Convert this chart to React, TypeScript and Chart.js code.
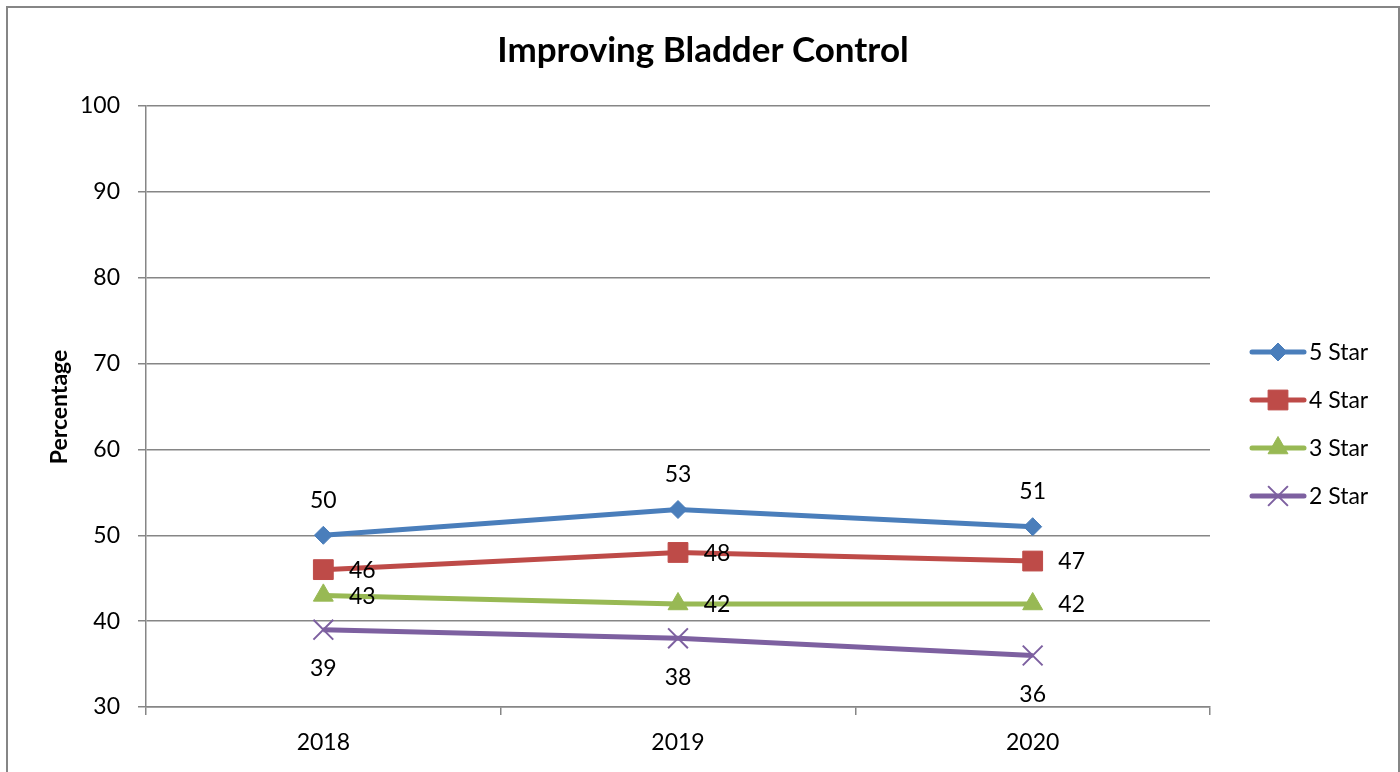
import React, { useEffect, useRef } from "react";
import { Chart, registerables } from "chart.js";
import { drawPoint } from "chart.js/helpers";

Chart.register(...registerables);

const categories = ["2018", "2019", "2020"];
const seriesNames = ["5 Star", "4 Star", "3 Star", "2 Star"];
const fiveStar = [50, 53, 51];
const fourStar = [46, 48, 47];
const threeStar = [43, 42, 42];
const twoStar = [39, 38, 36];
const yMin = 30;
const yMax = 100;
const yStep = 10;
const chartTitle = "Improving Bladder Control";
const yAxisTitle = "Percentage";

const colors = ["#4A7EBB", "#BE4B48", "#98B954", "#7D60A0"];
const pointStyles = ["rectRot", "rect", "triangle", "crossRot"];
const pointRadii = [9, 14, 11.5, 14];
const pointBorderWidths = [1, 1, 1, 2];
const labelPlacement = ["above", "right", "right", "below"];

const FONT = "Lato, 'Open Sans', sans-serif";
const GRID = "#868686";

export default function App() {
  const ref = useRef<HTMLCanvasElement | null>(null);

  useEffect(() => {
    const canvas = ref.current;
    if (!canvas) return;
    const seriesData = [fiveStar, fourStar, threeStar, twoStar];

    const deco = {
      id: "deco",
      beforeDraw(chart: any) {
        const ctx = chart.ctx;
        ctx.save();
        ctx.fillStyle = "#ffffff";
        ctx.fillRect(0, 0, chart.width, chart.height);
        ctx.restore();
      },
      afterDatasetsDraw(chart: any) {
        const ctx = chart.ctx;
        ctx.save();
        ctx.font = `23px ${FONT}`;
        ctx.fillStyle = "#000";
        ctx.textAlign = "center";
        ctx.textBaseline = "middle";
        chart.data.datasets.forEach((ds: any, i: number) => {
          const meta = chart.getDatasetMeta(i);
          meta.data.forEach((pt: any, j: number) => {
            let x = pt.x;
            let y = pt.y;
            const p = labelPlacement[i];
            if (p === "above") y -= 36;
            else if (p === "below") y += 38;
            else x += 39;
            ctx.fillText(String(ds.data[j]), x, y + 1);
          });
        });
        ctx.restore();
      },
      afterDraw(chart: any) {
        const ctx = chart.ctx;
        ctx.save();
        // title
        ctx.fillStyle = "#000";
        ctx.textAlign = "center";
        ctx.textBaseline = "middle";
        ctx.font = `bold 35px ${FONT}`;
        ctx.fillText(chartTitle, 703, 51);
        // y axis title
        ctx.save();
        ctx.translate(60, 407);
        ctx.rotate(-Math.PI / 2);
        ctx.font = `bold 23px ${FONT}`;
        ctx.fillText(yAxisTitle, 0, 0);
        ctx.restore();
        // legend
        const ly0 = 352;
        const lgap = 48;
        seriesNames.forEach((name, i) => {
          const y = ly0 + i * lgap;
          ctx.strokeStyle = colors[i];
          ctx.fillStyle = colors[i];
          ctx.lineWidth = 5;
          ctx.lineCap = "round";
          ctx.beginPath();
          ctx.moveTo(1252, y);
          ctx.lineTo(1304, y);
          ctx.stroke();
          ctx.lineCap = "butt";
          ctx.lineWidth = pointBorderWidths[i];
          drawPoint(
            ctx,
            {
              pointStyle: pointStyles[i],
              rotation: 0,
              radius: pointRadii[i],
              borderWidth: pointBorderWidths[i],
            } as any,
            1278,
            y
          );
          ctx.fillStyle = "#000";
          ctx.textAlign = "left";
          ctx.textBaseline = "middle";
          ctx.font = `23px ${FONT}`;
          ctx.fillText(name, 1309, y + 1);
        });
        // outer border
        ctx.strokeStyle = GRID;
        ctx.lineWidth = 2;
        ctx.strokeRect(7, 7, 1392, 900);
        ctx.restore();
      },
    };

    const chart = new Chart(canvas, {
      type: "line",
      data: {
        labels: categories,
        datasets: seriesNames.map((name, i) => ({
          label: name,
          data: seriesData[i],
          borderColor: colors[i],
          backgroundColor: colors[i],
          borderWidth: 5,
          pointStyle: pointStyles[i] as any,
          pointRadius: pointRadii[i],
          pointHoverRadius: pointRadii[i],
          pointBorderWidth: pointBorderWidths[i],
          pointBackgroundColor: colors[i],
          pointBorderColor: colors[i],
          tension: 0,
          fill: false,
        })),
      },
      options: {
        animation: false,
        responsive: false,
        devicePixelRatio: 1,
        events: [],
        layout: { padding: { top: 106, right: 190, left: 0, bottom: 0 } },
        plugins: {
          legend: { display: false },
          title: { display: false },
          tooltip: { enabled: false },
        },
        scales: {
          x: {
            type: "category",
            offset: true,
            grid: {
              offset: true,
              drawOnChartArea: false,
              drawTicks: true,
              tickLength: 8,
              color: GRID,
              lineWidth: 1.5,
            },
            border: { display: true, color: GRID, width: 1.5 },
            ticks: {
              color: "#000",
              font: { family: FONT, size: 23 },
              padding: 14,
            },
            afterFit(scale: any) {
              scale.height = 65;
            },
          },
          y: {
            min: yMin,
            max: yMax,
            ticks: {
              stepSize: yStep,
              color: "#000",
              font: { family: FONT, size: 23 },
              padding: 18,
            },
            grid: {
              color: GRID,
              lineWidth: 1.5,
              drawTicks: true,
              tickLength: 8,
            },
            border: { display: true, color: GRID, width: 1.5 },
            afterFit(scale: any) {
              scale.width = 146;
            },
          },
        },
      },
      plugins: [deco],
    });

    return () => chart.destroy();
  }, []);

  return (
    <div style={{ position: "fixed", left: 0, top: 0, width: 1400, height: 772, background: "#fff" }}>
      <canvas ref={ref} width={1400} height={772} style={{ width: 1400, height: 772, display: "block" }} />
    </div>
  );
}
